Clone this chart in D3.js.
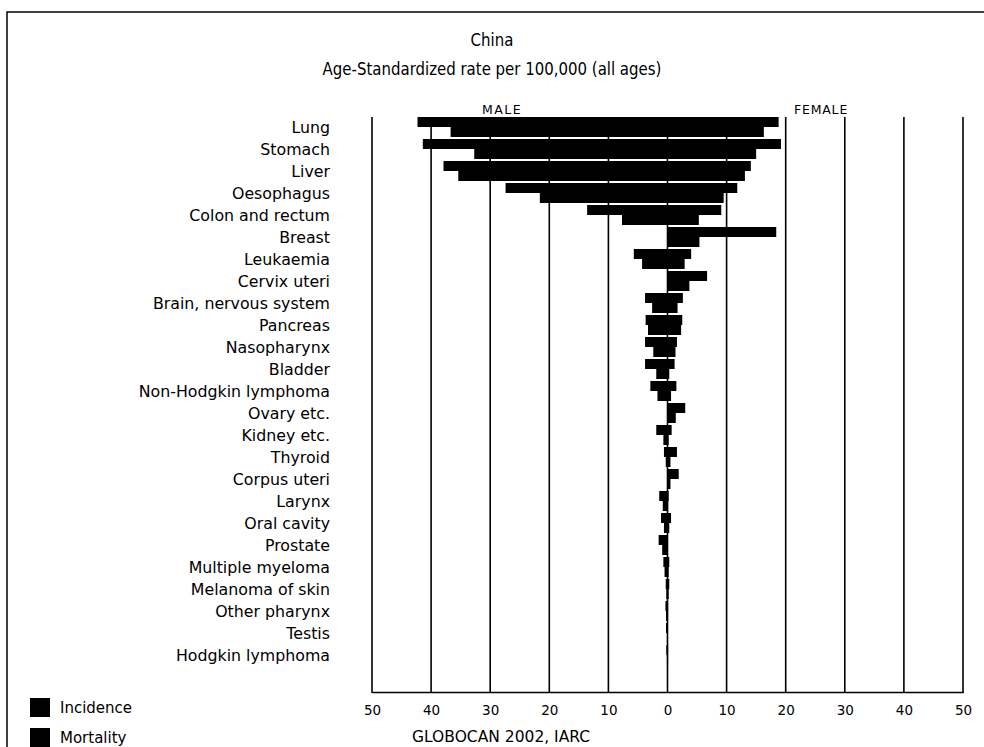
<!DOCTYPE html>
<html>
<head>
<meta charset="utf-8">
<script src="https://cdn.jsdelivr.net/npm/d3@7"></script>
<style>
  html, body { margin: 0; padding: 0; background: #fff; }
  svg { display: block; }
  text { font-family: "DejaVu Sans", Verdana, sans-serif; fill: #000; }
  .title { font-family: "DejaVu Sans Condensed", "DejaVu Sans", sans-serif; font-stretch: condensed; }
</style>
</head>
<body>
<svg id="chart" width="984" height="747"></svg>
<script>
const categories = ["Lung","Stomach","Liver","Oesophagus","Colon and rectum","Breast","Leukaemia","Cervix uteri","Brain, nervous system","Pancreas","Nasopharynx","Bladder","Non-Hodgkin lymphoma","Ovary etc.","Kidney etc.","Thyroid","Corpus uteri","Larynx","Oral cavity","Prostate","Multiple myeloma","Melanoma of skin","Other pharynx","Testis","Hodgkin lymphoma"];
const maleIncidence   = [42.3,41.4,37.9,27.4,13.6,0,5.7,0,3.8,3.7,3.8,3.8,2.9,0,1.9,0.6,0,1.4,1.1,1.5,0.7,0.3,0.35,0.25,0.2];
const maleMortality   = [36.7,32.7,35.4,21.6,7.7,0,4.3,0,2.6,3.3,2.4,1.9,1.7,0,0.7,0.3,0,0.8,0.6,0.9,0.5,0.2,0.25,0.1,0.1];
const femaleIncidence = [18.8,19.2,14.1,11.8,9.1,18.4,4.0,6.7,2.6,2.5,1.6,1.2,1.5,3.0,0.7,1.6,1.9,0.2,0.6,0,0.3,0.3,0.1,0,0.1];
const femaleMortality = [16.3,15.0,13.1,9.5,5.3,5.4,2.9,3.7,1.7,2.3,1.35,0.3,0.6,1.4,0.2,0.5,0.5,0.1,0.3,0,0.2,0.2,0.1,0,0.1];
const tickValues = [-50,-40,-30,-20,-10,0,10,20,30,40,50];
const titleLines = ["China","Age-Standardized rate per 100,000 (all ages)"];
const legendItems = ["Incidence","Mortality"];

const svg = d3.select("#chart");

// frame
svg.append("path").attr("d","M7,747 L7,12 L984,12").attr("fill","none").attr("stroke","#000").attr("stroke-width",1.5);

const x = d3.scaleLinear().domain([-50,50]).range([372,963]);
const y = d3.scalePoint().domain(categories).range([127,655]);
const half = 10;
const gridTop = 117, axisY = 692;

// gridlines
svg.append("g").selectAll("line").data(tickValues).join("line")
  .attr("x1", d => x(d)).attr("x2", d => x(d))
  .attr("y1", gridTop).attr("y2", axisY + 1)
  .attr("stroke","#000").attr("stroke-width",1.6);

// axis
const axis = svg.append("g").attr("transform",`translate(0,${axisY})`)
  .call(d3.axisBottom(x).tickValues(tickValues).tickSize(0).tickPadding(13).tickFormat(d => Math.abs(d)));
axis.select(".domain").attr("stroke","#000").attr("stroke-width",1.6);
axis.selectAll("text").attr("font-size","13.5px").attr("font-family","DejaVu Sans").attr("fill","#000");

// bars
const rows = categories.map((c,i) => ({c, mi: maleIncidence[i], mm: maleMortality[i], fi: femaleIncidence[i], fm: femaleMortality[i]}));
const bars = svg.append("g");
rows.forEach(r => {
  const cy = y(r.c);
  const specs = [
    {v:-r.mi, y0: cy - half}, {v:-r.mm, y0: cy},
    {v: r.fi, y0: cy - half}, {v: r.fm, y0: cy}
  ];
  specs.forEach(s => {
    if (s.v === 0) return;
    bars.append("rect")
      .attr("x", Math.min(x(0), x(s.v)))
      .attr("width", Math.abs(x(s.v) - x(0)))
      .attr("y", s.y0).attr("height", half)
      .attr("fill","#000");
  });
});

// category labels
svg.append("g").selectAll("text").data(categories).join("text")
  .attr("x", 330).attr("y", d => y(d)).attr("dy","0.35em")
  .attr("text-anchor","end").attr("font-size","15.8px").text(d => d);

// titles
svg.append("g").selectAll("text").data(titleLines).join("text")
  .attr("class","title")
  .attr("transform", (d,i) => `translate(492,${46 + i*29}) scale(0.9,1)`)
  .attr("text-anchor","middle").attr("font-size","18.5px").text(d => d);

// MALE / FEMALE
svg.append("text").attr("x", 482).attr("y", 114).attr("font-size","12.5px").attr("letter-spacing","1.5px").text("MALE");
svg.append("text").attr("x", 794).attr("y", 114).attr("font-size","12.5px").attr("letter-spacing","0.8px").text("FEMALE");

// legend
const leg = svg.append("g").selectAll("g").data(legendItems).join("g")
  .attr("transform", (d,i) => `translate(30,${698 + i*30})`);
leg.append("rect").attr("width",20).attr("height",19).attr("fill","#000");
leg.append("text").attr("x",30).attr("y",15).attr("font-size","15px").text(d => d);

// source
svg.append("text").attr("x", 412).attr("y", 742).attr("font-size","15.5px").text("GLOBOCAN 2002, IARC");
</script>
</body>
</html>
